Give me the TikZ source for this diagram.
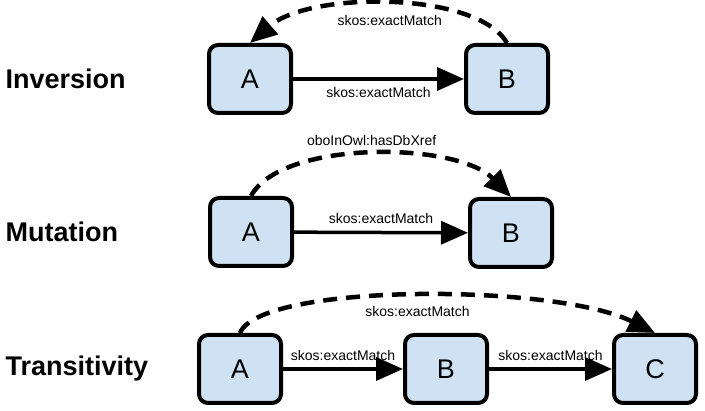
\documentclass[tikz,border=0pt]{standalone}
\usepackage{fontspec}
\setmainfont{Liberation Sans}
\usetikzlibrary{arrows.meta}
\definecolor{boxblue}{RGB}{207,226,243}
\tikzset{term/.style={draw=black,line width=4pt,fill=boxblue,rounded corners=9pt,
    minimum width=82pt,minimum height=68pt,inner sep=0pt,font=\fontsize{27}{32}\selectfont},
  rowname/.style={anchor=west,font=\fontsize{27}{32}\selectfont\bfseries},
  relname/.style={font=\fontsize{14}{17}\selectfont,inner sep=1pt},
  link/.style={-{Triangle[length=27pt,width=23pt]},line width=3.5pt},
  derived/.style={-{Triangle[length=27pt,width=23pt]},line width=4.5pt,dash pattern=on 14pt off 9pt}}

\begin{document}
\begin{tikzpicture}[x=1pt,y=1pt]
  \path[use as bounding box] (0,0) rectangle (705,-411);
  % Inversion
  \node[rowname] (inv) at (2,-79) {Inversion};
  \node[term] (invA) at (250,-79) {A};
  \node[term] (invB) at (507,-79) {B};
  \draw[link] (invA) -- node[relname,below=6pt] {skos:exactMatch} (invB);
  \draw[derived] (invB.north) .. controls +(-30,52) and +(60,52) .. node[relname,below=8pt] {skos:exactMatch} (invA.north);
  % Mutation
  \node[rowname] (mut) at (2,-232) {Mutation};
  \node[term] (mutA) at (251,-232) {A};
  \node[term] (mutB) at (511,-233) {B};
  \draw[link] (mutA) -- node[relname,above=6pt] {skos:exactMatch} (mutB);
  \draw[derived] (mutA.north) .. controls +(30,56) and +(-55,56) .. node[relname,above=6pt] {oboInOwl:hasDbXref} (mutB.north);
  % Transitivity
  \node[rowname] (tra) at (2,-369) {Transitivity};
  \node[term] (traA) at (240,-369) {A};
  \node[term] (traB) at (446,-369) {B};
  \node[term] (traC) at (655,-369) {C};
  \draw[link] (traA) -- node[relname,above=6pt] {skos:exactMatch} (traB);
  \draw[link] (traB) -- node[relname,above=6pt] {skos:exactMatch} (traC);
  \draw[derived] (traA.north) .. controls +(20,50) and +(-100,50) .. node[relname,below=8pt] {skos:exactMatch} (traC.north);
\end{tikzpicture}
\end{document}
